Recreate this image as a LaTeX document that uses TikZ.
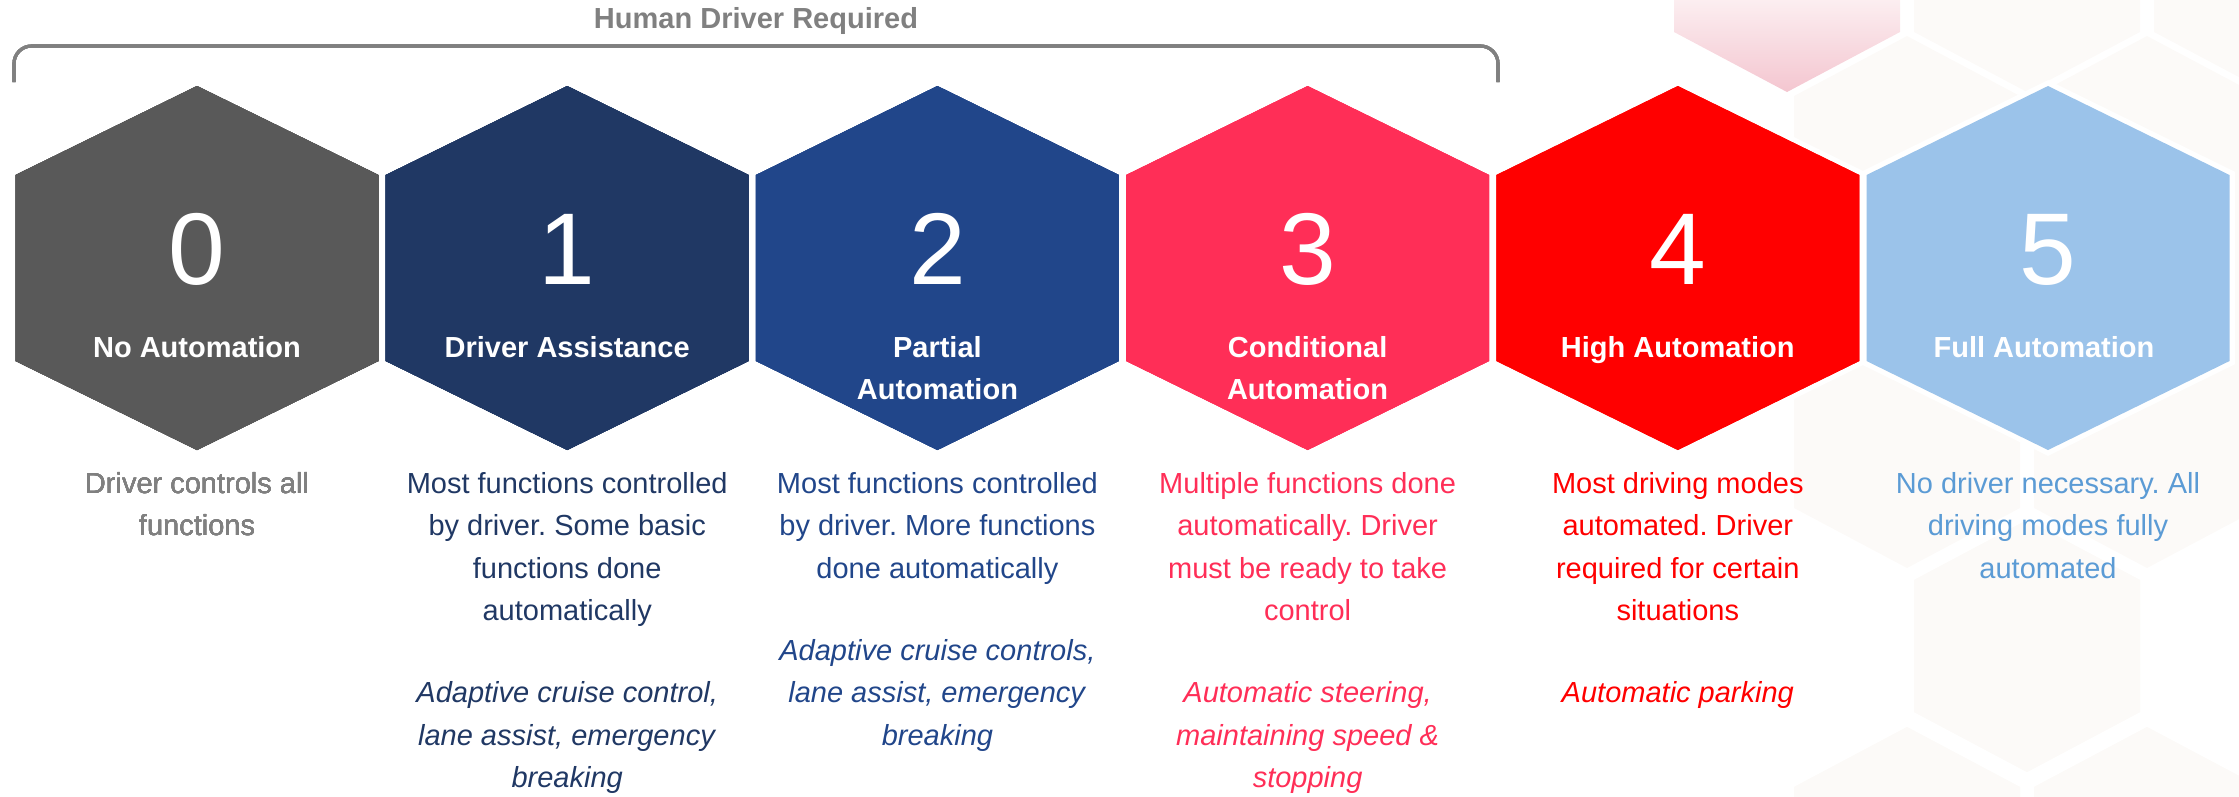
\documentclass[tikz,border=0pt]{standalone}
\usepackage{fontspec}
\setmainfont{Liberation Sans}
\usepackage{tikz}
\usetikzlibrary{calc}
\frenchspacing
\definecolor{lvlgray}{HTML}{595959}
\definecolor{lvlnavy}{HTML}{203864}
\definecolor{lvlblue}{HTML}{21468A}
\definecolor{lvlpink}{HTML}{FF2E57}
\definecolor{lvlred}{HTML}{FF0000}
\definecolor{lvlsky}{HTML}{9BC3EA}
\definecolor{txtgray}{HTML}{808080}
\definecolor{txtsky}{HTML}{5B9BD5}
\definecolor{bgbeige}{HTML}{FCFAF8}
\definecolor{bgpinktop}{HTML}{FCF0F2}
\definecolor{bgpinkbot}{HTML}{F4C6D0}
\def\hw{181.5}
\def\hs{89}
\def\hl{186}
\tikzset{bracket/.style={line width=0.9pt, txtgray, rounded corners=5}}
\tikzset{headline/.style={text=txtgray, font=\bfseries\fontsize{8.25}{12}\selectfont}}
\tikzset{lvlnum/.style={text=white, font=\fontsize{29}{34}\selectfont, anchor=base, inner sep=0}}
\tikzset{lvlname/.style={text=white, font=\bfseries\fontsize{8.25}{12}\selectfont, align=center, anchor=north, inner sep=0}}
\tikzset{lvldesc/.style={font=\fontsize{8.25}{12}\selectfont, align=center, anchor=north, inner sep=0}}
\tikzset{halo/.style={draw=white, line width=3pt}}
% one hexagon: options, centre x, top y, half width, slant, side
\newcommand{\hexa}[6]{\path[#1] (#2,#3) -- ++(#4,#5) -- ++(0,#6) -- ++(-#4,#5) -- ++(-#4,-#5) -- ++(0,-#6) -- cycle;}
\begin{document}
\begin{tikzpicture}[x=0.01cm, y=-0.01cm]
        \useasboundingbox (0,0) rectangle (2239,796);
        % Honeycomb in the background
        \path[top color=bgpinktop, bottom color=bgpinkbot] (1674,-5) -- (1674,32) -- (1787,92) -- (1900,32) -- (1900,-5) -- cycle;
        \foreach \cx in {2027,2267}
          \fill[bgbeige] (\cx-113,-5) -- (\cx-113,32) -- (\cx,92) -- (\cx+113,32) -- (\cx+113,-5) -- cycle;
        \foreach \cx in {1907,2147}
          \hexa{fill=bgbeige}{\cx}{36}{113}{60}{412}
        \hexa{fill=bgbeige}{2027}{520}{113}{60}{132}
        \foreach \cx in {1907,2147}
          \hexa{fill=bgbeige}{\cx}{727}{113}{60}{200}
        % Bracket
        \draw[bracket] (14,82) -- (14,46) -- (1498,46) -- (1498,82);
        \node[headline] (head) at (756,21) {Human Driver Required};
        % Levels
        \foreach \cx in {197,567.2,937.4,1307.6,1677.8,2048}
          \hexa{halo}{\cx}{86}{\hw}{\hs}{\hl}
        \foreach \i/\cx/\col/\name in {
          0/197/lvlgray/{No Automation},
          1/567.2/lvlnavy/{Driver Assistance},
          2/937.4/lvlblue/{Partial\\Automation},
          3/1307.6/lvlpink/{Conditional\\Automation},
          4/1677.8/lvlred/{High Automation},
          5/2048/lvlsky/{Full Automation}
        } {
          \hexa{fill=\col}{\cx}{86}{\hw}{\hs}{\hl}
          \node[lvlnum] (num\i) at (\cx,284) {\i};
          \node[lvlname] (name\i) at (\cx,336) {\name};
        }
        \node[lvldesc, text=txtgray] (desc0) at (197,472) {Driver controls all\\functions};
        \node[lvldesc, text=lvlnavy] (desc1) at (567.2,472) {Most functions controlled\\by driver. Some basic\\functions done\\automatically\\[11.5pt]
          \textit{Adaptive cruise control,}\\\textit{lane assist, emergency}\\\textit{breaking}};
        \node[lvldesc, text=lvlblue] (desc2) at (937.4,472) {Most functions controlled\\by driver. More functions\\done automatically\\[11.5pt]
          \textit{Adaptive cruise controls,}\\\textit{lane assist, emergency}\\\textit{breaking}};
        \node[lvldesc, text=lvlpink] (desc3) at (1307.6,472) {Multiple functions done\\automatically. Driver\\must be ready to take\\control\\[11.5pt]
          \textit{Automatic steering,}\\\textit{maintaining speed \&}\\\textit{stopping}};
        \node[lvldesc, text=lvlred] (desc4) at (1677.8,472) {Most driving modes\\automated. Driver\\required for certain\\situations\\[11.5pt]
          \textit{Automatic parking}};
        \node[lvldesc, text=txtsky] (desc5) at (2048,472) {No driver necessary. All\\driving modes fully\\automated};
\end{tikzpicture}
\end{document}
